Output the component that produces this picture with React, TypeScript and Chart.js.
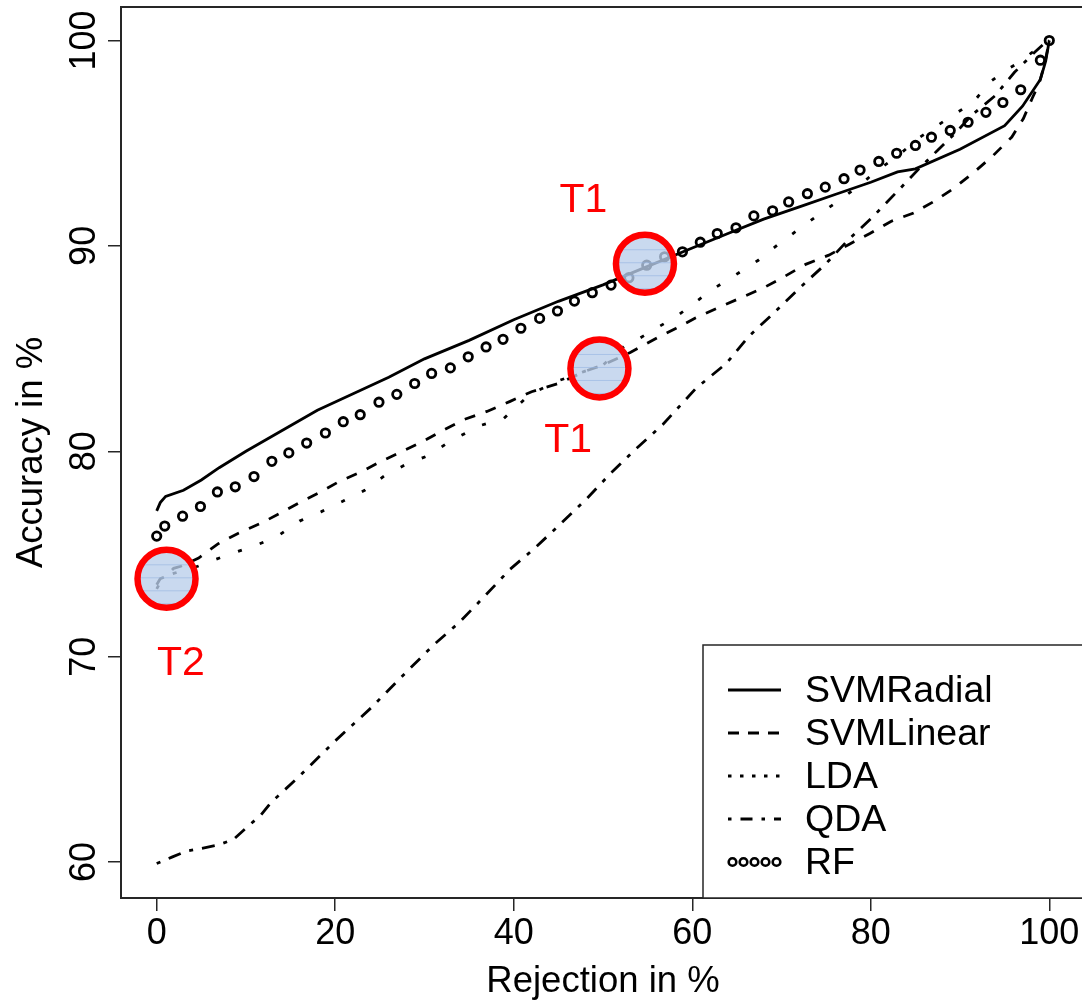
import React, { useEffect, useRef } from 'react';
import { Chart, registerables } from 'chart.js';

Chart.register(...registerables);

// ---------- data ----------
const seriesNames = ['SVMRadial', 'SVMLinear', 'LDA', 'QDA', 'RF'];

const svmRadialX = [0, 0.4, 1, 3, 5, 7, 10, 14, 18, 22, 26, 30, 35, 40, 45, 50, 55, 60, 64, 68, 72, 76, 80, 83, 85, 90, 95, 97, 99, 99.6, 100];
const svmRadialY = [77.1, 77.5, 77.8, 78.1, 78.6, 79.2, 80.0, 81.0, 82.0, 82.8, 83.6, 84.5, 85.4, 86.4, 87.3, 88.1, 89.0, 89.9, 90.6, 91.3, 91.9, 92.5, 93.1, 93.6, 93.75, 94.7, 95.85, 96.8, 98.1, 99.0, 100];

const svmLinearX = [0, 0.4, 1, 1.9, 2.7, 4.7, 6.9, 9.1, 11.7, 13.9, 16, 18.1, 20.5, 22.9, 25.1, 27.5, 30, 32.2, 34.4, 37, 39.6, 42, 45, 48, 50, 53, 56.3, 58.2, 60.4, 63.4, 65.6, 68, 70.3, 72.7, 75.3, 77.5, 79.9, 82.3, 84.8, 87.1, 89.3, 91.6, 93.6, 95.8, 97.1, 98.1, 98.9, 99.5, 100];
const svmLinearY = [73.5, 73.8, 73.9, 74.3, 74.4, 74.8, 75.5, 76.0, 76.5, 77.0, 77.5, 77.96, 78.54, 79.0, 79.5, 80.0, 80.52, 81.05, 81.54, 81.94, 82.43, 82.9, 83.3, 83.9, 84.2, 84.8, 85.58, 85.99, 86.5, 87.09, 87.5, 87.96, 88.5, 89.1, 89.55, 90.06, 90.6, 91.2, 91.6, 92.17, 92.8, 93.6, 94.35, 95.3, 96.2, 97.2, 97.96, 98.9, 100];

const ldaX = [0, 0.5, 1.5, 3, 4.6, 6.1, 8.6, 11, 13.5, 16, 18.4, 21, 23.3, 25.5, 28.1, 30.5, 32.9, 36.3, 38.9, 41.8, 44.8, 48, 50, 52.6, 54.1, 55.6, 58.2, 60.4, 62.7, 64.9, 67.4, 69.7, 71.9, 74.1, 76.4, 78.6, 80.8, 83.1, 85.2, 87.5, 89.7, 91.5, 93.3, 95.3, 96.9, 98, 99.2, 100];
const ldaY = [73.3, 73.7, 74.0, 74.2, 74.4, 74.66, 75.05, 75.4, 75.85, 76.6, 77.05, 77.6, 78.1, 78.8, 79.4, 79.8, 80.5, 81.26, 81.6, 82.77, 83.4, 83.9, 84.2, 85.2, 85.5, 85.9, 86.55, 87.28, 88.0, 88.6, 89.3, 90.1, 90.8, 91.5, 92.2, 92.9, 93.7, 94.4, 95.2, 95.87, 96.5, 97.0, 97.96, 98.6, 99.0, 99.4, 99.7, 100];

const qdaX = [0, 1.7, 3.3, 5.2, 6.9, 8.6, 10, 11.7, 12.8, 15.8, 20, 24, 27, 31.1, 33.9, 36.6, 39.6, 42.4, 45.2, 48.2, 50.8, 53.4, 56.7, 60.4, 63.8, 66.3, 69.3, 71.9, 74.9, 77.5, 80.2, 83.3, 85.5, 87.5, 89.5, 91.3, 93.9, 96.1, 98.3, 99.3, 100];
const qdaY = [59.93, 60.24, 60.53, 60.68, 60.83, 61.1, 61.65, 62.3, 62.9, 64.1, 65.9, 67.5, 68.83, 70.6, 71.67, 72.88, 74.26, 75.3, 76.45, 77.7, 78.9, 80.0, 81.3, 83.06, 84.27, 85.58, 86.8, 87.9, 89.1, 90.3, 91.4, 92.8, 93.8, 94.66, 95.5, 96.36, 97.3, 98.45, 99.4, 99.8, 100];

const rfX = [0, 0.9, 2.9, 4.9, 6.8, 8.8, 10.9, 12.9, 14.8, 16.8, 18.9, 20.9, 22.8, 24.9, 26.9, 28.9, 30.8, 32.9, 34.9, 36.9, 38.8, 40.8, 42.9, 44.9, 46.8, 48.8, 50.9, 52.9, 54.9, 56.9, 58.9, 60.9, 62.8, 64.9, 66.9, 69.0, 70.8, 72.9, 74.9, 77.0, 78.8, 80.9, 82.9, 85.0, 86.8, 88.9, 90.9, 92.9, 94.8, 96.8, 99.0, 100];
const rfY = [75.87, 76.36, 76.84, 77.31, 78.02, 78.27, 78.77, 79.51, 79.92, 80.40, 80.89, 81.44, 81.78, 82.39, 82.77, 83.30, 83.79, 84.06, 84.60, 85.08, 85.45, 85.99, 86.47, 86.83, 87.31, 87.72, 88.09, 88.45, 89.06, 89.47, 89.71, 90.18, 90.6, 90.88, 91.46, 91.71, 92.14, 92.54, 92.86, 93.27, 93.69, 94.11, 94.51, 94.89, 95.29, 95.62, 96.02, 96.50, 96.98, 97.6, 99.04, 100.0];

const xTickValues = [0, 20, 40, 60, 80, 100];
const yTickValues = [60, 70, 80, 90, 100];
const xTitle = 'Rejection in %';
const yTitle = 'Accuracy in %';

// annotation markers (data coordinates)
const markerX = [54.7, 49.6, 1.1];
const markerY = [89.13, 84.03, 73.79];
const noteText = ['T1', 'T1', 'T2'];
const noteX = [47.8, 46.1, 2.7];
const noteY = [92.28, 80.63, 69.76];

// ---------- styles ----------
const FONT = "'Liberation Sans', Arial, Helvetica, sans-serif";
const INK = '#000';
const FRAME = '#262626';
const LINE_W = 2.8;
const dashPatterns: number[][] = [[], [11, 11], [4, 19], [4, 9, 13, 9], []];
const legendDash: number[][] = [[], [11, 9], [3.5, 8.5], [3.5, 9, 12, 9], []];

const pts = (xs: number[], ys: number[]) => xs.map((x, i) => ({ x, y: ys[i] }));

const overlayPlugin = {
  id: 'overlay',
  afterDatasetsDraw(chart: any) {
    const { ctx, chartArea: a, scales } = chart;
    const xs = scales.x;
    const ys = scales.y;
    ctx.save();
    // frame
    ctx.strokeStyle = FRAME;
    ctx.lineWidth = 2;
    ctx.setLineDash([]);
    ctx.strokeRect(a.left, a.top, a.right - a.left, a.bottom - a.top);

    // annotation circles
    for (let i = 0; i < markerX.length; i++) {
      const cx = xs.getPixelForValue(markerX[i]);
      const cy = ys.getPixelForValue(markerY[i]);
      ctx.beginPath();
      ctx.arc(cx, cy, 29, 0, Math.PI * 2);
      ctx.fillStyle = 'rgba(186,206,234,0.78)';
      ctx.fill();
      ctx.save();
      ctx.clip();
      ctx.strokeStyle = 'rgba(150,180,225,0.6)';
      ctx.lineWidth = 1;
      for (let k = -40; k <= 40; k += 13) {
        ctx.beginPath();
        ctx.moveTo(cx - 40, cy + k);
        ctx.lineTo(cx + 40, cy + k);
        ctx.stroke();
      }
      ctx.restore();
      ctx.beginPath();
      ctx.arc(cx, cy, 29, 0, Math.PI * 2);
      ctx.strokeStyle = '#ff0000';
      ctx.lineWidth = 6.5;
      ctx.stroke();
    }
    // annotation labels
    ctx.fillStyle = '#ff0000';
    ctx.font = `41px ${FONT}`;
    ctx.textAlign = 'center';
    ctx.textBaseline = 'middle';
    for (let i = 0; i < noteText.length; i++) {
      ctx.fillText(noteText[i], xs.getPixelForValue(noteX[i]), ys.getPixelForValue(noteY[i]) + 2);
    }
    ctx.restore();
  },
  afterDraw(chart: any) {
    const { ctx, chartArea: a, scales } = chart;
    const ys = scales.y;
    ctx.save();
    // rotated y tick labels
    ctx.fillStyle = INK;
    ctx.font = `36px ${FONT}`;
    ctx.textAlign = 'center';
    ctx.textBaseline = 'alphabetic';
    for (const v of yTickValues) {
      const py = ys.getPixelForValue(v);
      ctx.save();
      ctx.translate(a.left - 26, py);
      ctx.rotate(-Math.PI / 2);
      ctx.fillText(String(v), 0, 0);
      ctx.restore();
    }

    // legend
    const boxW = 382;
    const boxH = 253;
    const left = a.right - boxW;
    const top = a.bottom - boxH;
    ctx.fillStyle = '#fff';
    ctx.fillRect(left, top, boxW, boxH);
    ctx.strokeStyle = FRAME;
    ctx.lineWidth = 1.5;
    ctx.setLineDash([]);
    ctx.strokeRect(left, top, boxW, boxH);
    const datasets = chart.data.datasets;
    for (let i = 0; i < datasets.length; i++) {
      const ry = top + 45 + i * 43;
      const x0 = left + 25;
      const x1 = left + 78;
      ctx.strokeStyle = INK;
      if (i === 4) {
        ctx.lineWidth = 2.6;
        ctx.setLineDash([]);
        for (let k = 0; k < 5; k++) {
          ctx.beginPath();
          ctx.arc(x0 + 4.5 + k * 11, ry, 3.8, 0, Math.PI * 2);
          ctx.stroke();
        }
      } else {
        ctx.lineWidth = LINE_W;
        ctx.setLineDash(legendDash[i]);
        ctx.beginPath();
        ctx.moveTo(x0, ry);
        ctx.lineTo(x1, ry);
        ctx.stroke();
      }
      ctx.setLineDash([]);
      ctx.fillStyle = INK;
      ctx.font = `37.5px ${FONT}`;
      ctx.textAlign = 'left';
      ctx.textBaseline = 'middle';
      ctx.fillText(datasets[i].label, left + 102, ry + 2);
    }
    ctx.restore();
  },
};

export default function App() {
  const ref = useRef<HTMLCanvasElement>(null);

  useEffect(() => {
    if (!ref.current) return;
    const lineSets = [
      pts(svmRadialX, svmRadialY),
      pts(svmLinearX, svmLinearY),
      pts(ldaX, ldaY),
      pts(qdaX, qdaY),
    ];
    const datasets: any[] = lineSets.map((d, i) => ({
      label: seriesNames[i],
      data: d,
      borderColor: INK,
      borderWidth: LINE_W,
      borderDash: dashPatterns[i],
      pointRadius: 0,
      tension: 0,
      fill: false,
    }));
    datasets.push({
      label: seriesNames[4],
      data: pts(rfX, rfY),
      showLine: false,
      pointStyle: 'circle',
      pointRadius: 4.2,
      pointBorderWidth: 2.8,
      pointBorderColor: INK,
      pointBackgroundColor: 'rgba(0,0,0,0)',
      borderColor: INK,
    });

    const chart = new Chart(ref.current, {
      type: 'line',
      data: { datasets },
      plugins: [overlayPlugin],
      options: {
        responsive: false,
        animation: false,
        events: [],
        layout: { padding: { top: 4, right: 2, left: 0, bottom: 0 } },
        plugins: { legend: { display: false }, tooltip: { enabled: false } },
        scales: {
          x: {
            type: 'linear',
            min: -4,
            max: 104,
            afterBuildTicks: (s: any) => {
              s.ticks = xTickValues.map((v) => ({ value: v }));
            },
            afterFit: (s: any) => {
              s.height = 105;
            },
            grid: { drawOnChartArea: false, drawTicks: true, tickLength: 13, color: FRAME, lineWidth: 1.5 },
            border: { display: false },
            ticks: {
              font: { family: FONT, size: 36, lineHeight: 1 },
              color: INK,
              padding: 5,
              maxRotation: 0,
              autoSkip: false,
              callback: (v: any) => String(v),
            },
            title: {
              display: true,
              text: xTitle,
              color: INK,
              font: { family: FONT, size: 36.5, lineHeight: 1 },
              padding: { top: 0, bottom: 3 },
            },
          },
          y: {
            type: 'linear',
            min: 58.25,
            max: 101.63,
            afterBuildTicks: (s: any) => {
              s.ticks = yTickValues.map((v) => ({ value: v }));
            },
            afterFit: (s: any) => {
              s.width = 121;
            },
            grid: { drawOnChartArea: false, drawTicks: true, tickLength: 13, color: FRAME, lineWidth: 1.5 },
            border: { display: false },
            ticks: { display: false },
            title: {
              display: true,
              text: yTitle,
              color: INK,
              font: { family: FONT, size: 36.5, lineHeight: 1 },
              padding: { top: 14, bottom: 0 },
            },
          },
        },
      } as any,
    });
    return () => chart.destroy();
  }, []);

  return (
    <div
      style={{
        position: 'fixed',
        left: 0,
        top: 0,
        width: 1082,
        height: 1003,
        overflow: 'hidden',
        background: '#fff',
      }}
    >
      <canvas ref={ref} width={1092} height={1003} style={{ display: 'block', width: 1092, height: 1003 }} />
    </div>
  );
}
